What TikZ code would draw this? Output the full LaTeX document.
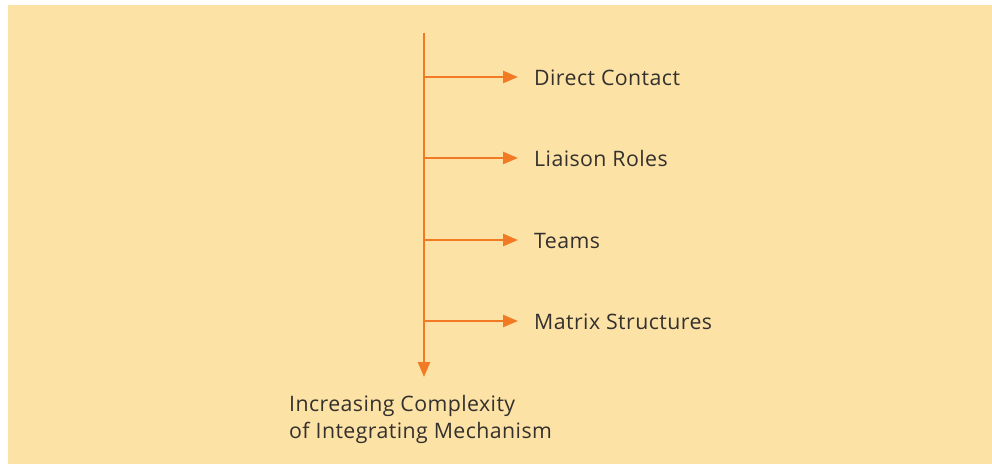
\documentclass[tikz,border=0pt]{standalone}
\usepackage{fontspec}
\setmainfont[LetterSpace=2]{Open Sans}
\usepackage{xcolor}
\usetikzlibrary{arrows.meta,positioning}
\definecolor{bgpeach}{RGB}{253,226,166}
\definecolor{lineorange}{RGB}{242,122,36}
\definecolor{textgray}{RGB}{51,48,45}

\begin{document}
\begin{tikzpicture}[x=1pt, y=-1pt,
    font=\fontsize{21.3}{27}\selectfont, text=textgray,
    flow/.style={draw=lineorange, line width=2.5pt, -{Triangle[length=15pt, width=12pt]}},
    item/.style={anchor=west, inner sep=0pt}]
  \useasboundingbox (0,0) rectangle (992,464);
  \fill[bgpeach] (8,5) rectangle (992,464);

  % main axis
  \coordinate (top) at (424,33);
  \coordinate (bottom) at (424,377);
  \draw[flow] (top) -- (bottom);

  % mechanisms
  \node[item] (dc) at (534,78) {Direct Contact};
  \node[item] (lr) at (534,159) {Liaison Roles};
  \node[item] (tm) at (534,241) {Teams};
  \node[item] (ms) at (534,322) {Matrix Structures};

  \coordinate (b1) at (424,77);
  \coordinate (b2) at (424,158);
  \coordinate (b3) at (424,240);
  \coordinate (b4) at (424,321);
  \draw[flow] (b1) -- ([xshift=-16pt]b1 -| dc.west);
  \draw[flow] (b2) -- ([xshift=-16pt]b2 -| lr.west);
  \draw[flow] (b3) -- ([xshift=-16pt]b3 -| tm.west);
  \draw[flow] (b4) -- ([xshift=-16pt]b4 -| ms.west);

  \node[anchor=north west, align=left, inner sep=0pt] (caption) at (289,395)
    {Increasing Complexity\\of Integrating Mechanism};
\end{tikzpicture}
\end{document}
